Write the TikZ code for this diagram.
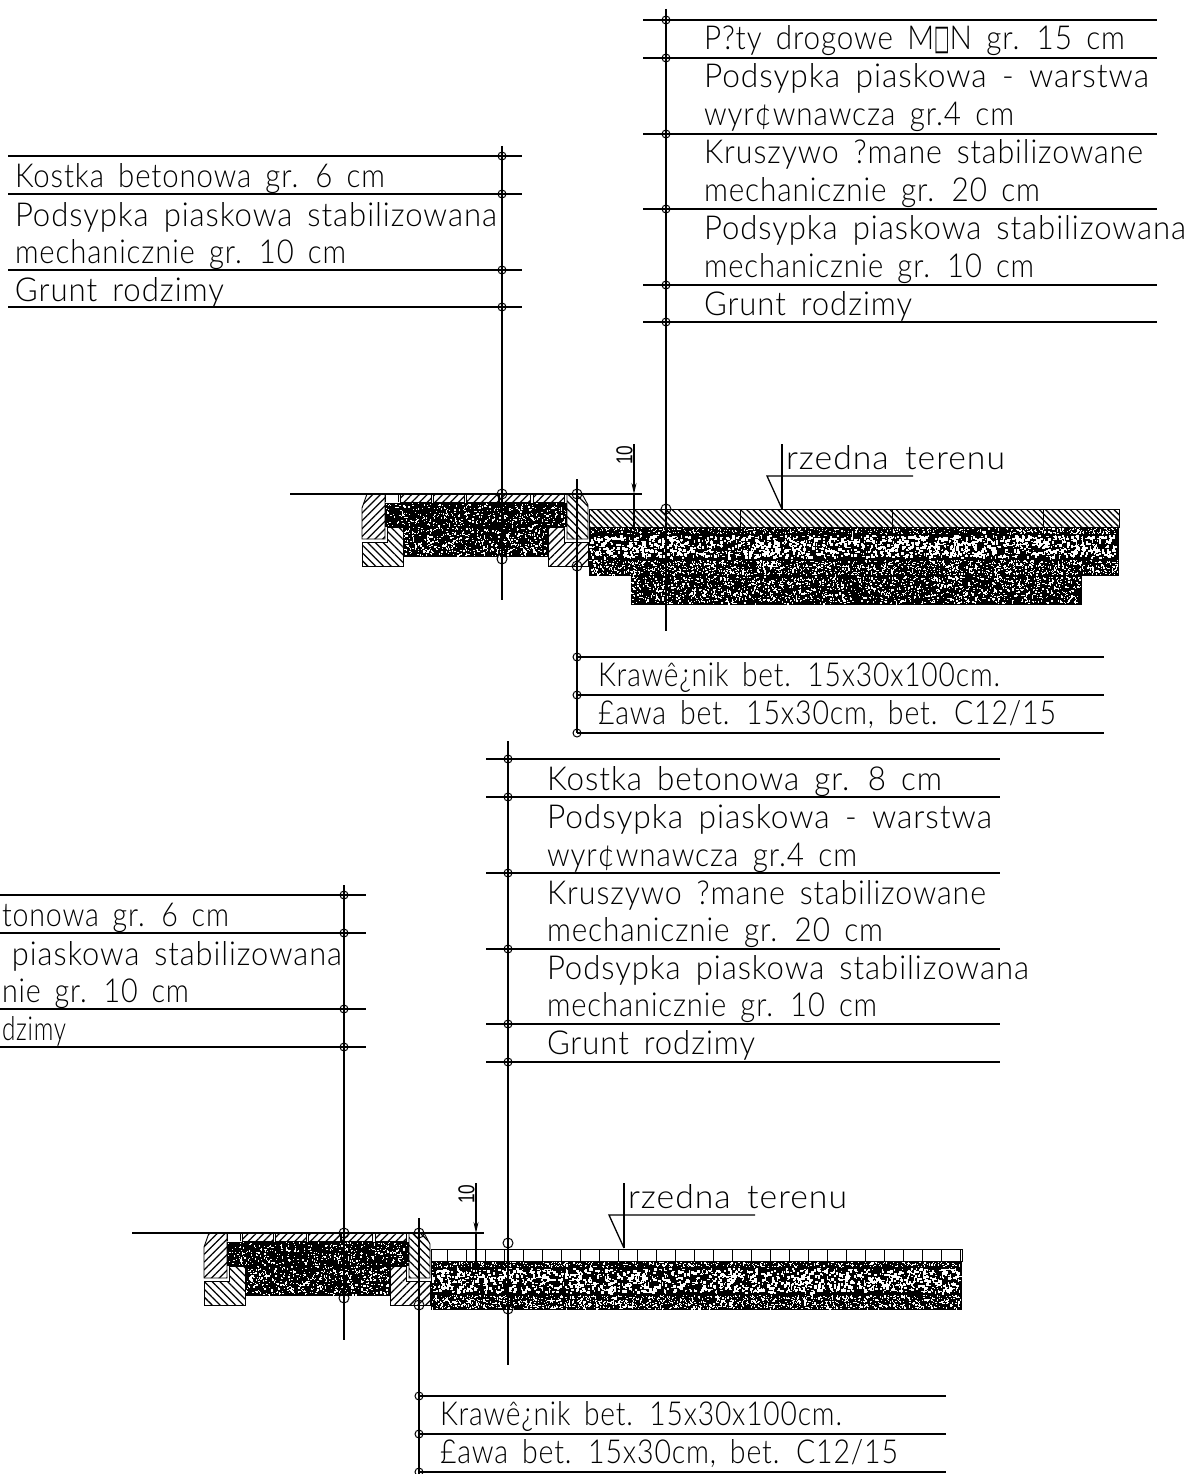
\documentclass[tikz,border=0pt]{standalone}
\usepackage{fontspec}
\usepackage{graphicx}
\usetikzlibrary{patterns.meta,arrows.meta}
\newfontfamily\cad[LetterSpace=3,WordSpace=1.6]{Lato Light}
\newfontfamily\symf{DejaVu Sans}
\newfontfamily\dimf{Liberation Sans}
\newcommand\ct[2]{\setbox0=\hbox{\fontsize{33}{33}\cad #2}\pgfmathsetmacro\myr{#1/\the\wd0}\scalebox{\myr}[1]{\box0}}
\newcommand\sqch{\scalebox{0.55}[1.05]{\symf □}}
\tikzset{
  lead/.style={line width=1.3pt,black},
  bub/.style={circle,draw=black,line width=1pt,inner sep=0pt,minimum size=8pt},
  bigbub/.style={bub,minimum size=10pt},
  cadtxt/.style={anchor=base west,inner sep=0pt,outer sep=0pt},
  cadtxe/.style={anchor=base east,inner sep=0pt,outer sep=0pt},
  dimtxt/.style={inner sep=0pt,rotate=90,font=\fontsize{23}{23}\dimf},
  hatchA/.style={draw=black,line width=.9pt,pattern={Lines[angle=45,distance=5.5pt,line width=1.25pt]}},
  hatchB/.style={draw=black,line width=.9pt,pattern={Lines[angle=-45,distance=5.5pt,line width=1.25pt]}},
  hatchC/.style={draw=black,line width=.9pt,pattern={Lines[angle=-45,distance=4.4pt,line width=1.35pt]}},
}
% black field with random white grain: x1 y1 x2 y2 count size
\newcommand\grain[6]{%
  \fill[black] (#1,#2) rectangle (#3,#4);
  \foreach \i in {1,...,#5}{%
    \pgfmathsetmacro\sx{#1+rnd*(#3-#1-#6)}%
    \pgfmathsetmacro\sy{#2+rnd*(#4-#2-#6)}%
    \pgfmathsetmacro\sw{0.7+rnd*(#6-0.7)}%
    \pgfmathsetmacro\sh{0.7+rnd*(#6-0.7)}%
    \fill[white] (\sx,\sy) rectangle ++(\sw,\sh);
  }%
}
\newcommand\row[5]{% name y x1 x2 xv
  \node[bub] (#1) at (#5,#2) {};
  \coordinate (#1l) at (#3,#2);
  \coordinate (#1r) at (#4,#2);
  \draw[lead] (#1l) -- (#1r);
}
% road edge cut-away: left pavement between two kerbs
\newcommand\kerbs{%
  \grain{385}{503}{567}{527}{420}{1.7}
  \grain{403}{527}{548}{557}{520}{1.9}
  \draw[hatchA] (367,494) -- (385,494) -- (385,539) -- (362,539) -- (362,508) -- cycle;
  \draw[hatchB] (387,527) -- (403,527) -- (403,566) -- (362,566) -- (362,542) -- (387,542) -- cycle;
  \draw[hatchB] (567,494) -- (582,494) -- (588,505) -- (588,539) -- (567,539) -- cycle;
  \draw[hatchA] (548,527) -- (564,527) -- (564,542) -- (588,542) -- (588,566) -- (548,566) -- cycle;
  \draw[line width=.9pt] (385,502) -- (385,494) -- (398,494) -- (398,502);
  \foreach \px/\pw in {400/31,433/31,466/32,499/31,533/31}
    \draw[hatchA] (\px,494) rectangle ++(\pw,8);
}
\newcommand\dimmark{%
  \node[dimtxt] (dimten) at (624.5,455) {\scalebox{0.75}[1]{10}};
  \coordinate (dimA) at (634,444);
  \coordinate (dimB) at (634,494);
  \coordinate (dimC) at (634,527);
  \draw[lead,-{Stealth[length=11pt,width=5pt]}] (dimA) -- (dimB);
  \draw[lead] (dimB) -- (dimC);
  \coordinate (gl) at (290,494);
  \coordinate (gr) at (642,494);
  \draw[lead] (gl) -- (gr);
}
\newcommand\level{%
  \coordinate (lvA) at (767,476);
  \coordinate (lvB) at (913,476);
  \coordinate (lvC) at (782,444);
  \coordinate (lvD) at (782,509);
  \draw[lead] (lvD) -- (lvA) -- (lvB);
  \draw[lead] (lvC) -- (lvD);
  \node[cadtxt] (lvT) at (786,469) {\ct{219}{rzedna terenu}};
}
\newcommand\kerbleader[2]{% bottom of vertical
  \node[bigbub] (kA) at (577,494) {};
  \node[bigbub] (kB) at (577,566) {};
  \coordinate (kT) at (577,479);
  \coordinate (kE) at (577,#1);
  \draw[lead] (kT) -- (kE);
  \row{kC}{657}{577}{1104}{577}
  \row{kD}{695}{577}{1104}{577}
  \row{kF}{733}{577}{1104}{577}
  \node[cadtxt] (kT1) at (598,686) {\ct{402}{Krawê¿nik bet. 15x30x100cm.}};
  \node[cadtxt] (kT2) at (598,724) {\ct{458}{£awa bet. 15x30cm, bet. C12/15}};
}
\newcommand\midleader{%
  \node[bigbub] (mA) at (502,494) {};
  \node[bigbub] (mB) at (502,559) {};
}
\begin{document}
\begin{tikzpicture}[x=1pt,y=-1pt]
\useasboundingbox (0,0) rectangle (1199,1474);
\clip (0,0) rectangle (1199,1474);
\pgfmathsetseed{4711}

% ---------- upper section ----------
\kerbs
\grain{589}{527}{1119}{535}{520}{1.5}
\grain{589}{535}{1119}{560}{1700}{3.2}
\grain{589}{560}{1119}{576}{1500}{1.7}
\grain{631}{576}{1082}{605}{1700}{1.9}
\draw[hatchC] (589,509) rectangle (1119,527);
\foreach \jx in {740,892,1043} \draw[line width=.9pt] (\jx,509) -- (\jx,527);
\midleader
\dimmark
\level
\kerbleader{733}{}

\coordinate (vaT) at (502,146); \coordinate (vaB) at (502,600);
\draw[lead] (vaT) -- (vaB);
\row{a1}{156}{8}{522}{502}
\row{a2}{194}{8}{522}{502}
\row{a3}{270}{8}{522}{502}
\row{a4}{307}{8}{522}{502}
\node[cadtxt] (ta1) at (15,187) {\ct{370}{Kostka betonowa gr. 6 cm}};
\node[cadtxt] (ta2) at (15,226) {\ct{482}{Podsypka piaskowa stabilizowana}};
\node[cadtxt] (ta3) at (15,263) {\ct{331}{mechanicznie gr. 10 cm}};
\node[cadtxt] (ta4) at (15,301) {\ct{209}{Grunt rodzimy}};

\coordinate (vbT) at (666,9); \coordinate (vbB) at (666,631);
\draw[lead] (vbT) -- (vbB);
\node[bigbub] (bS) at (666,509) {};
\row{b1}{20}{643}{1157}{666}
\row{b2}{58}{643}{1157}{666}
\row{b3}{134}{643}{1157}{666}
\row{b4}{209}{643}{1157}{666}
\row{b5}{285}{643}{1157}{666}
\row{b6}{322}{643}{1157}{666}
\node[cadtxt] (tb1) at (704,50) {\ct{421}{P?ty drogowe M\sqch N gr. 15 cm}};
\node[cadtxt] (tb2) at (704,88) {\ct{445}{Podsypka piaskowa - warstwa}};
\node[cadtxt] (tb3) at (704,126) {\ct{310}{wyr¢wnawcza gr.4 cm}};
\node[cadtxt] (tb4) at (704,164) {\ct{439}{Kruszywo ?mane stabilizowane}};
\node[cadtxt] (tb5) at (704,201) {\ct{336}{mechanicznie gr. 20 cm}};
\node[cadtxt] (tb6) at (704,239) {\ct{482}{Podsypka piaskowa stabilizowana}};
\node[cadtxt] (tb7) at (704,277) {\ct{330}{mechanicznie gr. 10 cm}};
\node[cadtxt] (tb8) at (704,315) {\ct{208}{Grunt rodzimy}};

% ---------- lower section ----------
\begin{scope}[shift={(-158,739)},name prefix=L]
\kerbs
\grain{589}{522}{1120}{529}{520}{1.5}
\grain{589}{529}{1120}{556}{1700}{3.2}
\grain{589}{556}{1120}{571}{1500}{1.7}
\draw[line width=.9pt] (589,510) rectangle (1120,522);
\foreach \jk in {0,...,27} \draw[line width=.9pt] (605+19*\jk,510) -- (605+19*\jk,522);
\midleader
\dimmark
\level
\kerbleader{740}{}
\end{scope}
\node[bigbub] (cS) at (508,1243) {};
\node[bigbub] (cE) at (508,1309) {};

\coordinate (vcT) at (344,885); \coordinate (vcB) at (344,1340);
\draw[lead] (vcT) -- (vcB);
\row{c1}{895}{0}{366}{344}
\row{c2}{933}{0}{366}{344}
\row{c3}{1009}{0}{366}{344}
\row{c4}{1047}{0}{366}{344}
\node[cadtxe] (tc1) at (229,926) {\ct{227}{tonowa gr. 6 cm}};
\node[cadtxe] (tc2) at (342,965) {\ct{330}{piaskowa stabilizowana}};
\node[cadtxe] (tc3) at (189,1002) {\ct{187}{nie gr. 10 cm}};
\node[cadtxe] (tc4) at (66,1040) {\ct{64}{dzimy}};

\coordinate (vdT) at (508,741); \coordinate (vdB) at (508,1365);
\draw[lead] (vdT) -- (vdB);
\row{d1}{759}{486}{1000}{508}
\row{d2}{797}{486}{1000}{508}
\row{d3}{873}{486}{1000}{508}
\row{d4}{949}{486}{1000}{508}
\row{d5}{1024}{486}{1000}{508}
\row{d6}{1062}{486}{1000}{508}
\node[cadtxt] (td1) at (547,790) {\ct{395}{Kostka betonowa gr. 8 cm}};
\node[cadtxt] (td2) at (547,828) {\ct{445}{Podsypka piaskowa - warstwa}};
\node[cadtxt] (td3) at (547,866) {\ct{310}{wyr¢wnawcza gr.4 cm}};
\node[cadtxt] (td4) at (547,904) {\ct{439}{Kruszywo ?mane stabilizowane}};
\node[cadtxt] (td5) at (547,941) {\ct{336}{mechanicznie gr. 20 cm}};
\node[cadtxt] (td6) at (547,979) {\ct{482}{Podsypka piaskowa stabilizowana}};
\node[cadtxt] (td7) at (547,1016) {\ct{330}{mechanicznie gr. 10 cm}};
\node[cadtxt] (td8) at (547,1054) {\ct{208}{Grunt rodzimy}};
\end{tikzpicture}
\end{document}
